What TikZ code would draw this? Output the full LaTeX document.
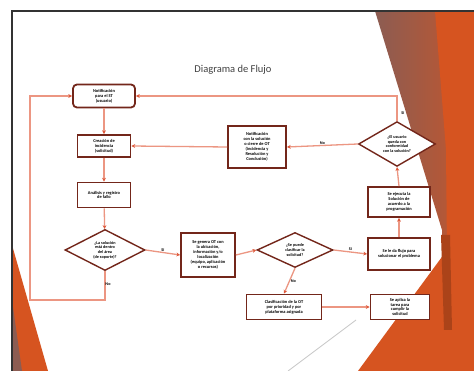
\documentclass[tikz,border=0pt]{standalone}
\usepackage{fontspec}
\setmainfont{Carlito}
\usetikzlibrary{shapes.geometric,arrows.meta}
\definecolor{borde}{RGB}{115,38,26}
\definecolor{linea}{RGB}{236,150,130}
\definecolor{punta}{RGB}{222,88,58}
\definecolor{naranja}{RGB}{214,84,32}
\definecolor{taupe}{RGB}{140,92,82}
\tikzset{
  caja/.style={draw=borde,line width=1.8pt,fill=white,align=center,inner sep=1pt,
    font=\fontsize{4.4}{4.9}\selectfont\bfseries},
  decision/.style={diamond,draw=borde,line width=1.4pt,fill=white,align=center,inner sep=0pt,
    font=\fontsize{4.2}{4.7}\selectfont\bfseries},
  flecha/.style={draw=linea,line width=1.3pt,->},
  etiq/.style={font=\fontsize{4.2}{4.6}\selectfont\bfseries,inner sep=0.8pt}
}
\begin{document}
\begin{tikzpicture}[x=1pt,y=-1pt,>={Stealth[color=punta,length=3.8pt,width=3.8pt]}]
\useasboundingbox (0,0) rectangle (474,371);
\fill[white] (0,0) rectangle (474,371);
\shade[left color=taupe,right color=naranja!75!taupe] (375,11)--(474,11)--(474,371)--(446,371)--(442,230)--cycle;
\fill[naranja] (435,11)--(474,11)--(474,371)--(358,371)--(447,250)--(446,150)--cycle;
\fill[naranja!80!black] (441,235)--(450,235)--(452,330)--(444,330)--cycle;
\fill[naranja] (12,245)--(48,371)--(12,371)--cycle;
\fill[taupe] (12,300)--(22,371)--(12,371)--cycle;
\draw[gray!45,line width=0.8pt] (288,371)--(356,320);
\draw[black!80,line width=1.5pt] (12,371)--(12,11)--(474,11);
\node[text=black!75,font=\fontsize{10.5}{12}\selectfont] (titulo) at (233,70) {Diagrama de Flujo};

\node[caja,rounded corners=4pt,minimum width=62pt,minimum height=23pt] (notif) at (104,96) {Notificación\\ para el ST\\ (usuario)};
\node[caja,minimum width=53pt,minimum height=22pt] (ingreso) at (104,146) {Creación de\\ incidencia\\ (solicitud)};
\node[caja,minimum width=53pt,minimum height=25pt] (analisis) at (104,195) {Análisis y registro\\ de fallo};
\node[decision,minimum width=80pt,minimum height=35pt] (dec1) at (105,250) {¿La solución\\ está dentro\\ del área\\ (de soporte)?};
\node[caja,minimum width=54pt,minimum height=44pt] (ordengen) at (208,255) {Se genera OT con\\ la ubicación,\\ información y/o\\ localización\\ (equipo, aplicación\\ o recursos)};
\node[decision,minimum width=76pt,minimum height=35pt] (dec2) at (295,250) {¿Se puede\\ clasificar la\\ solicitud?};
\node[caja,minimum width=75pt,minimum height=25pt] (clasif) at (284,307) {Clasificación de la OT\\ por prioridad y por\\ plataforma asignada};
\node[caja,minimum width=62pt,minimum height=32pt] (flujo) at (399,254) {Se le da flujo para\\ solucionar el problema};
\node[caja,minimum width=62pt,minimum height=30pt] (ejecuta) at (399,202) {Se ejecuta la\\ Solución de\\ acuerdo a la\\ programación};
\node[decision,minimum width=77pt,minimum height=42pt] (dec3) at (397,144) {¿El usuario\\ queda con\\ conformidad\\ con la solución?};
\node[caja,minimum width=58pt,minimum height=42pt] (cierre) at (257,147) {Notificación\\ con la solución\\ o cierre de OT\\ (incidencia y\\ Resolución y\\ Conclusión)};
\node[caja,minimum width=59pt,minimum height=25pt] (tarea) at (400,307) {Se aplica la\\ tarea para\\ cumplir la\\ solicitud};

\coordinate (esqA) at (30,300);
\coordinate (esqB) at (30,96);
\draw[flecha] (notif)--(ingreso);
\draw[flecha] (ingreso)--(analisis);
\draw[flecha] (analisis)--(dec1);
\draw[flecha] (dec1.east)--node[etiq,above]{Si}(ordengen.west);
\draw[flecha] (dec1.south)|-(esqA)--(esqB)--(notif.west);
\node[etiq] (no1) at (108,284) {No};
\draw[flecha] (ordengen.east)--(dec2.west);
\draw[flecha] (dec2.east)--node[etiq,above]{Si}(flujo.west);
\draw[flecha] (dec2.south)--node[etiq,right]{No}(clasif.north);
\draw[flecha] (clasif.east)--(tarea.west);
\draw[flecha] (flujo.north)--(ejecuta.south);
\draw[flecha] (ejecuta.north)--(dec3.south);
\draw[flecha] (dec3.west)--node[etiq,above]{No}(cierre.east);
\draw[flecha] (cierre.west)--(ingreso.east);
\draw[flecha] (dec3.north)|-(notif.east);
\node[etiq] (si3) at (403,113) {Si};
\end{tikzpicture}
\end{document}
